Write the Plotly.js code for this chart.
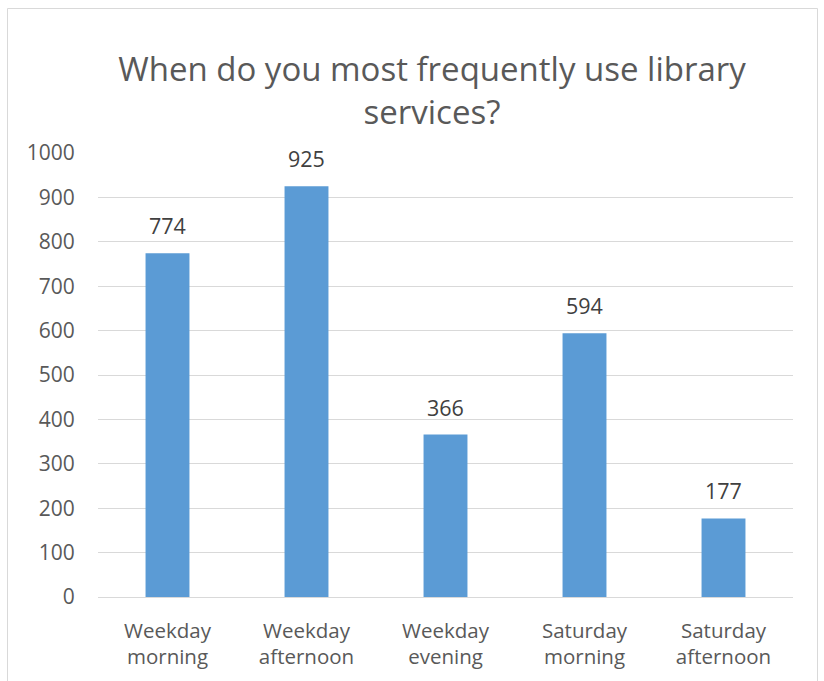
<!DOCTYPE html>
<html>
<head>
<meta charset="utf-8">
<script src="https://cdn.plot.ly/plotly-3.0.1.min.js"></script>
<style>
html,body{margin:0;padding:0;background:#fff;}
#chart{width:824px;height:681px;}
</style>
</head>
<body>
<div id="chart"></div>
<script>
const categories = ["Weekday<br>morning", "Weekday<br>afternoon", "Weekday<br>evening", "Saturday<br>morning", "Saturday<br>afternoon"];
const counts = [774, 925, 366, 594, 177];
const yTicks = [0, 100, 200, 300, 400, 500, 600, 700, 800, 900, 1000];
const chartTitle = "When do you most frequently use library<br>services?";

const FONT = "'Open Sans', sans-serif";
const L = 98, R = 793, T = 153, B = 597, W = 824, H = 681;
const pw = R - L, ph = B - T;

const trace = {
  type: "bar",
  x: categories,
  y: counts,
  marker: {color: "#5B9BD5"},
  width: 0.316,
  hoverinfo: "x+y"
};

const labels = categories.map((c, i) => ({
  x: c, y: counts[i], xref: "x", yref: "y",
  text: String(counts[i]),
  showarrow: false, xanchor: "center", yanchor: "bottom", yshift: 11,
  font: {family: FONT, size: 21.5, color: "#404040"}
}));

const layout = {
  width: W, height: H,
  margin: {l: L, r: W - R, t: T, b: H - B, pad: 0},
  paper_bgcolor: "#fff",
  plot_bgcolor: "#fff",
  showlegend: false,
  title: {
    text: chartTitle,
    x: 432 / W, xanchor: "center", xref: "container",
    y: 1 - 81 / H, yanchor: "top", yref: "container",
    font: {family: FONT, size: 33, color: "#595959"}
  },
  xaxis: {
    type: "category",
    showgrid: false, zeroline: false, showline: false,
    ticks: "outside", ticklen: 15, tickcolor: "rgba(0,0,0,0)",
    tickfont: {family: FONT, size: 20.5, color: "#595959"},
    fixedrange: true
  },
  yaxis: {
    range: [0, 1000],
    tickvals: yTicks,
    ticktext: yTicks.map(String),
    showgrid: true, gridcolor: "#D9D9D9", gridwidth: 1,
    zeroline: true, zerolinecolor: "#D9D9D9", zerolinewidth: 1,
    showline: false, ticks: "outside", ticklen: 18, tickcolor: "rgba(0,0,0,0)",
    tickfont: {family: FONT, size: 21, color: "#595959"},
    fixedrange: true
  },
  annotations: labels,
  shapes: [{
    type: "rect", xref: "paper", yref: "paper",
    x0: (7.5 - L) / pw, x1: (817.5 - L) / pw,
    y0: (B - 700) / ph, y1: (B - 8.5) / ph,
    line: {color: "#D9D9D9", width: 1}, fillcolor: "rgba(0,0,0,0)", layer: "below"
  }]
};

Plotly.newPlot("chart", [trace], layout, {displayModeBar: false, staticPlot: true});
</script>
</body>
</html>
